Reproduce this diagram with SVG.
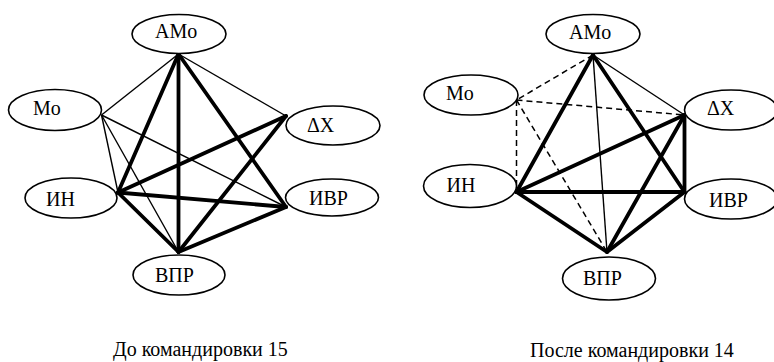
<svg xmlns="http://www.w3.org/2000/svg" width="774" height="362" viewBox="0 0 774 362">
<style>
.n ellipse{fill:#fff;stroke:#000;stroke-width:1.6}
.thin{stroke:#000;stroke-width:1.4;fill:none}
.thick{stroke:#000;stroke-width:3.8;fill:none;stroke-linecap:round}
.dash{stroke:#000;stroke-width:1.5;fill:none;stroke-dasharray:6 4}
</style>
<rect width="774" height="362" fill="#fff"/>
<g id="connectors">
<g id="left-edges">
<line class="thin" x1="178.5" y1="54" x2="101.5" y2="115"/>
<line class="thin" x1="178.5" y1="54" x2="286" y2="116"/>
<line class="thin" x1="101.5" y1="115" x2="118" y2="192.5"/>
<line class="thin" x1="101.5" y1="115" x2="178.5" y2="252"/>
<line class="thin" x1="101.5" y1="115" x2="286" y2="207"/>
<line class="thick" x1="178.5" y1="54" x2="118" y2="192.5"/>
<line class="thick" x1="178.5" y1="54" x2="178.5" y2="252"/>
<line class="thick" x1="178.5" y1="54" x2="286" y2="207"/>
<line class="thick" x1="118" y1="192.5" x2="286" y2="116"/>
<line class="thick" x1="118" y1="192.5" x2="286" y2="207"/>
<line class="thick" x1="118" y1="192.5" x2="178.5" y2="252"/>
<line class="thick" x1="178.5" y1="252" x2="286" y2="116"/>
<line class="thick" x1="178.5" y1="252" x2="286" y2="207"/>
</g>
<g id="right-edges">
<line class="dash" x1="593" y1="55" x2="516.5" y2="100"/>
<line class="dash" x1="516.5" y1="100" x2="684.5" y2="115"/>
<line class="dash" x1="516.5" y1="100" x2="516.5" y2="192"/>
<line class="dash" x1="516.5" y1="100" x2="607" y2="252"/>
<line class="thin" x1="593" y1="55" x2="607" y2="252"/>
<line class="thin" x1="593" y1="55" x2="684.5" y2="115"/>
<line class="thick" x1="593" y1="55" x2="516.5" y2="192"/>
<line class="thick" x1="593" y1="55" x2="684.5" y2="192"/>
<line class="thick" x1="516.5" y1="192" x2="684.5" y2="115"/>
<line class="thick" x1="516.5" y1="192" x2="684.5" y2="192"/>
<line class="thick" x1="516.5" y1="192" x2="607" y2="252"/>
<line class="thick" x1="684.5" y1="115" x2="684.5" y2="192"/>
<line class="thick" x1="684.5" y1="115" x2="607" y2="252"/>
<line class="thick" x1="684.5" y1="192" x2="607" y2="252"/>
</g>
</g>
<g font-family="Liberation Serif, Times New Roman, DejaVu Serif, serif" font-size="20" fill="#000">
<g id="L-AMo" class="n"><ellipse cx="179" cy="34" rx="47" ry="19.5"/><text x="155" y="38">AMo</text></g>
<g id="L-Mo" class="n"><ellipse cx="55" cy="110" rx="46.5" ry="20.5"/><text x="33" y="115">Mo</text></g>
<g id="L-dX" class="n"><ellipse cx="333" cy="125.5" rx="47" ry="19.5"/><text x="307" y="131.5">ΔX</text></g>
<g id="L-IN" class="n"><ellipse cx="71" cy="198" rx="46" ry="20"/><text x="46" y="206">ИН</text></g>
<g id="L-IVR" class="n"><ellipse cx="332" cy="197.5" rx="46.5" ry="18.5"/><text x="309" y="205">ИВР</text></g>
<g id="L-VPR" class="n"><ellipse cx="179" cy="275" rx="46" ry="20"/><text x="155" y="282">ВПР</text></g>
<g id="R-AMo" class="n"><ellipse cx="593" cy="34" rx="47" ry="19.5"/><text x="569" y="38.5">AMo</text></g>
<g id="R-Mo" class="n"><ellipse cx="471" cy="95" rx="47" ry="20"/><text x="446" y="99.5">Mo</text></g>
<g id="R-dX" class="n"><ellipse cx="731" cy="110" rx="46.5" ry="20"/><text x="707" y="115">ΔX</text></g>
<g id="R-IVR" class="n"><ellipse cx="731" cy="199" rx="46.5" ry="20"/><text x="709" y="206.5">ИВР</text></g>
<g id="R-IN" class="n"><ellipse cx="470" cy="186" rx="46.5" ry="21.5"/><text x="446.5" y="192">ИН</text></g>
<g id="R-VPR" class="n"><ellipse cx="609" cy="278.5" rx="46.5" ry="21.5"/><text x="583" y="285">ВПР</text></g>
<text x="113" y="356">До командировки 15</text>
<text x="530" y="357">После командировки 14</text>
</g>
</svg>
